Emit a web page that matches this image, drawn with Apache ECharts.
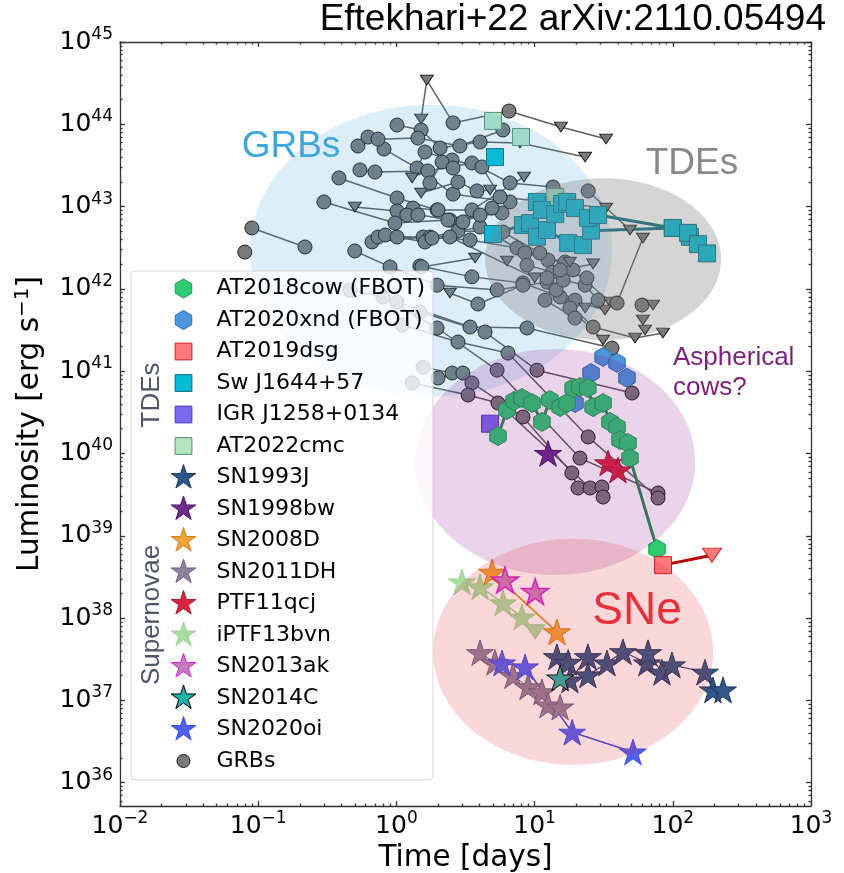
<!DOCTYPE html>
<html><head><meta charset="utf-8">
<script src="https://cdn.jsdelivr.net/npm/echarts@6/dist/echarts.min.js"></script>
<style>html,body{margin:0;padding:0;background:#fff}#c{width:844px;height:873px}</style>
</head><body><div id="c"></div>
<script>
// ---------------- data (time in days, luminosity in erg/s, third value 1 = upper limit) -------------
const at2018cow = [[5.43,1.63e40],[6.31,3.38e40],[7.10,4.35e40],[8.11,4.72e40],[9.58,4.11e40],[11.3,2.42e40],[12.9,4.47e40],[15.3,3.67e40],[17.2,4.11e40],[19.0,6.25e40],[21.3,6.43e40],[24.3,6.25e40],[26.5,3.67e40],[31.3,4.11e40],[35.1,2.42e40],[39.5,2.10e40],[41.5,1.46e40],[47.4,1.34e40],[49.0,8.8e39],[76.9,6.9e38]];
const at2020xnd = [[19.6,4.1e40],[25.6,9.5e40],[31.3,1.49e41],[39.5,1.26e41],[46.6,8.3e40]];
const at2019dsg = [[85,4.4e38,0],[192,5.8e38,1]];
const swj1644Early = [[5.17,4.0e43]];
const swj1644BandA = [[10.4,1.14e43],[11.3,9.1e42],[14.1,8.1e42],[15.8,1.08e43],[17.2,1.14e43],[19.6,9.6e42],[24.3,7.3e42],[28.8,7.9e42],[100,5.5e42],[129,4.8e42],[152,3.5e42],[177,2.7e42]];
const swj1644BandB = [[5.0,4.65e42],[8.24,5.97e42],[9.27,6.3e42],[10.4,4.3e42],[12.3,5.2e42],[17.5,3.6e42],[22.4,3.4e42],[25.6,5.1e42],[100,5.5e42],[133,4.3e42]];
const igrj1258 = [[4.76,2.3e40]];
const at2022cmc = [[5.0,1.1e44],[7.97,7.0e43],[14.1,1.31e43]];
const sn1993j = [[14.5,3.4e37],[17.5,2.9e37],[18.0,1.77e37],[24.3,3.4e37],[24.3,2.04e37],[33.4,2.85e37],[43.6,3.9e37],[65.0,2.85e37],[66.2,3.8e37],[83.5,2.2e37],[98.6,2.7e37],[171,2.2e37],[195,1.34e37],[231,1.34e37]];
const sn1998bw = [[12.5,1.0e40]];
const sn2008d = [[4.92,3.6e38],[14.5,6.8e37]];
const sn2011dh = [[4.03,3.8e37],[5.17,2.9e37],[6.98,2.0e37],[8.96,1.46e37],[11.3,1.27e37],[12.5,8.8e36],[15.3,8.3e36]];
const ptf11qcj = [[34.0,7.7e39],[40.1,6.3e39]];
const iptf13bvn = [[2.98,2.75e38,0],[4.03,2.4e38,0],[5.91,1.53e38,0],[8.11,1.03e38,0],[10.1,6.8e37,1]];
const sn2013ak = [[6.11,2.9e38],[10.1,2.1e38]];
const sn2014c = [[15.3,1.87e37]];
const sn2020oi = [[5.81,2.85e37],[8.53,2.55e37],[18.7,4.1e36],[51.5,2.36e36]];

const grbCurves = [
 [[1.51,1.16e44,1],[1.66,3.45e44,1],[2.57,1.04e44,0],[6.53,1.45e44,0],[15.5,9.27e43,1],[32.9,6.63e43,1]],
 [[1.01,9.8e43,0],[1.51,8.53e43,0],[2.07,5.15e43,0],[4.03,6.1e43,0],[7.84,5.93e43,1],[23.2,4.0e43,1]],
 [[0.623,7.0e43,0],[0.813,5.0e43,0],[1.41,2.94e43,0],[2.57,1.42e43,0],[6.64,1.14e43,0]],
 [[0.527,5.45e43,0],[0.736,6.6e43,0],[1.43,6.8e43,0],[2.88,5.45e43,0],[5.9,8.53e43,0]],
 [[0.545,2.79e43,0],[0.70,2.63e43,0],[1.69,2.71e43,0],[3.52,3.39e43,0],[6.64,1.94e43,0],[13.6,1.73e43,0]],
 [[0.384,2.23e43,0],[1.01,1.27e43,0],[1.97,9.1e42,0],[3.52,9.1e42,0],[8.38,2.29e43,1]],
 [[0.50,9.9e42,1],[1.01,8.85e42,0],[2.44,6.87e42,0],[5.81,8.36e42,0]],
 [[0.299,1.14e43,0],[0.977,6.32e42,0],[2.36,6.87e42,0],[4.92,9.6e42,0]],
 [[0.090,5.5e42,0],[0.218,3.23e42,0]],
 [[0.080,2.8e42,0]],
 [[0.666,3.72e42,0],[1.56,4.27e42,0],[3.41,3.93e42,0],[7.46,3.14e42,0],[12.5,2.24e42,0]],
 [[0.736,4.27e42,0],[1.75,4.27e42,0],[4.03,5.65e42,0],[8.52,2.73e42,0],[16.6,2.12e42,0]],
 [[0.50,2.89e42,0],[0.899,1.85e42,0],[1.97,1.11e42,0],[5.35,9.7e41,0],[12.3,1.21e42,0],[26.5,3.44e41,0],[53.3,2.53e41,1],[84.9,2.91e41,1]],
 [[0.83,4.52e42,0],[1.61,3.72e42,0],[2.79,5.05e42,0],[5.9,4.91e42,0],[10.9,2.73e42,0],[19.0,1.7e42,0],[35.1,6.93e41,1]],
 [[1.01,4.27e42,0],[1.81,4.15e42,0],[2.44,4.27e42,0],[10.0,1.36e42,1]],
 [[1.48,1.9e42,0],[3.52,1.4e42,0],[8.24,1.18e42,0],[15.3,7.97e41,0],[32.3,5.54e41,1]],
 [[1.30,2.23e43,1],[1.61,4.61e43,0],[2.53,3.68e43,0],[4.16,3.03e43,0],[5.62,1.31e43,0],[32.9,9.6e42,1]],
 [[1.51,1.46e43,1],[2.79,1.99e43,0],[3.83,1.55e43,0],[4.76,1.59e43,1]],
 [[1.32,9.6e42,0],[2.0,9.1e42,0],[3.03,6.5e42,0],[4.03,7.9e42,0]],
 [[1.19,7.9e42,0],[1.43,7.9e42,0]],
 [[1.75,1.94e43,0],[2.14,3.48e43,0],[2.57,2.94e43,0]],
 [[24.4,1.55e43,0],[49.0,5.2e42,1]],
 [[39.5,6.74e41,0],[60.8,4.15e42,1]],
 [[1.53,1.85e42,0],[3.71,2.37e42,1]],
 [[6.31,2.18e42,1]],
 [[18.0,2.12e42,1]],
 [[8.81,1.95e42,0],[13.4,1.6e42,0],[26.5,2.01e42,1]],
 [[14.3,9.7e41,0],[19.6,7.3e41,0],[23.2,5.86e41,1]],
 [[18.0,5.86e41,0],[31.3,2.39e41,1]],
 [[59.9,6.37e41,0],[71.9,6.37e41,1]],
 [[60.8,4.19e41,1]],
 [[63.0,3.17e41,1]],
 [[0.462,9.7e41,0],[0.80,7.97e41,0],[1.97,3.35e41,0],[5.35,1.03e41,0],[21.3,8.8e39,0],[78.2,3.31e39,0]],
 [[1.01,6.93e41,0],[3.41,3.44e41,0],[8.81,3.35e41,0],[36.3,1.91e41,0]],
 [[1.48,5.24e41,0],[4.38,2.99e41,0],[10.4,1.03e41,0],[50.7,5.43e40,0]],
 [[1.10,3.64e41,0],[2.79,2.26e41,0],[6.42,1.66e41,0],[24.4,1.59e40,0],[78.2,2.88e39,0]],
 [[1.56,1.12e41,0],[2.53,9.5e40,0],[3.52,7.19e40,0],[8.24,2.78e40,0],[18.6,5.8e39,0],[20.6,3.81e39,0]],
 [[1.30,7.19e40,0],[3.30,5.14e40,0],[5.43,4.11e40,0],[25.2,3.81e39,0],[30.7,3.92e39,0],[31.3,2.96e39,0]],
 [[2.0,8.27e40,0],[3.03,9.5e40,0]],
 [[2.44,8.9e41,1],[3.89,6.55e41,0],[8.24,1.11e42,0]],
 [[11.9,7.3e41,0],[19.6,4.43e41,0]],
 [[16.1,1.28e42,0],[23.2,1.11e42,0],[28.8,7.3e41,0]],
 [[15.3,1.7e42,0],[23.9,1.36e42,0]],
 [[12.3,1.36e42,0]]
];

// shaded regions: centre time [d], centre luminosity [erg/s], half-widths in decades (x, y)
const regionNames = ['GRBs','TDEs','Aspherical cows?','SNe'];
const regions = [[1.78,2.9e42,1.31,1.774],[31.3,2.3e42,0.854,0.984],[14.1,7.9e39,1.013,1.373],[19.0,3.9e37,1.013,1.373]];
const regionColors = ['rgba(62,166,220,0.18)','rgba(128,128,128,0.33)','rgba(128,0,128,0.17)','rgba(230,40,50,0.18)'];

const xTickExponents = [-2,-1,0,1,2,3];
const yTickExponents = [36,37,38,39,40,41,42,43,44,45];

// ---------------- helpers ----------------
const STAR='path://M100,0L77.55,69.1L4.9,69.1L63.67,111.8L41.2,180.9L100,138.2L158.8,180.9L136.33,111.8L195.1,69.1L122.45,69.1Z';
const HEX='path://M100,0L13.4,50L13.4,150L100,200L186.6,150L186.6,50Z';
const TRI='path://M0,0L200,0L100,173Z';
const FR='M0,0M300,300';
const L_CIRCLE='path://'+FR+'M85,150A65,65,0,1,1,215,150A65,65,0,1,1,85,150Z';
const L_HEX='path://'+FR+'M150,55L67.7,102.5L67.7,197.5L150,245L232.3,197.5L232.3,102.5Z';
const L_SQ='path://'+FR+'M66,66L234,66L234,234L66,234Z';
const L_STAR='path://'+FR+'M150,20L120.8,109.8L26.4,109.8L102.8,165.3L73.6,255.2L150,199.7L226.4,255.2L197.2,165.3L273.6,109.8L179.2,109.8Z';

const lg = Math.log10;
function pts(arr, sym, size, triSize){
  const ts = triSize || 13;
  return arr.map(p => ({value:[lg(p[0]), lg(p[1])], symbol: p[2] ? TRI : sym, symbolSize: p[2] ? [ts, ts*0.866] : size}));
}
const xMinor=[], yMinor=[];
for(let n=-2;n<3;n++) for(let k=2;k<10;k++) xMinor.push(n+lg(k));
for(let n=35;n<45;n++) for(let k=2;k<10;k++){const v=n+lg(k); if(v>35.717) yMinor.push(v);}
const sup = v => String(Math.round(v)).replace('-', '\u2212');
const fmt = v => '{b|10}{s|' + sup(v) + '}';
const rich = {b:{fontSize:25,fontFamily:'DejaVu Sans',lineHeight:32,color:'#000'}, s:{fontSize:17,fontFamily:'DejaVu Sans',lineHeight:18,verticalAlign:'top',color:'#000'}};
const AX = {color:'#333', width:1.3};

function mk(name, data, o){
  const s = {type: o.line ? 'line' : 'scatter', name, data, z: 2, silent:true, animation:false,
    symbolKeepAspect:true,
    itemStyle:{color:o.fill, borderColor:o.edge, borderWidth:o.bw||1, opacity:1}};
  if(o.line){ s.lineStyle = {color:o.lc, width:o.lw}; s.showSymbol = true; s.emphasis={disabled:true}; }
  return s;
}

const series = [];
grbCurves.forEach(c => series.push(mk('GRBs', pts(c,'circle',14,13), {line:true, fill:'#7a7a7a', edge:'#1a1a1a', lc:'#5f5f5f', lw:1.5})));
series.push(mk('AT2022cmc', pts(at2022cmc,'rect',17), {fill:'#b2e6c2', edge:'#5b8c6a'}));
series.push(mk('Sw J1644+57', pts(swj1644Early,'rect',17), {fill:'#00bcd4', edge:'#13697a'}));
series.push(mk('Sw J1644+57', pts(swj1644BandB,'rect',17), {line:true, fill:'#00bcd4', edge:'#13697a', lc:'#0b6f7f', lw:3}));
series.push(mk('Sw J1644+57', pts(swj1644BandA,'rect',17), {line:true, fill:'#00bcd4', edge:'#13697a', lc:'#0b6f7f', lw:3}));
series.push(mk('IGR J1258+0134', pts(igrj1258,'rect',17), {fill:'#7b68ee', edge:'#4b3cc8'}));
series.push(mk('AT2020xnd (FBOT)', pts(at2020xnd,HEX,19), {fill:'#4a98db', edge:'#2f6fb0'}));
series.push(mk('AT2018cow (FBOT)', pts(at2018cow,HEX,19), {line:true, fill:'#2ecc71', edge:'#1f9a55', lc:'#2e8b57', lw:3}));
series.push(mk('AT2019dsg', pts(at2019dsg,'rect',17,19), {line:true, fill:'#ff7b7b', edge:'#cc2020', lc:'#b80000', lw:3}));
series.push(mk('SN1993J', pts(sn1993j,STAR,27), {line:true, fill:'#2f5788', edge:'#1d3557', lc:'#34406a', lw:1.2}));
series.push(mk('SN1998bw', pts(sn1998bw,STAR,27), {fill:'#6c2c8c', edge:'#4c1b66'}));
series.push(mk('SN2011DH', pts(sn2011dh,STAR,27), {line:true, fill:'#8e839c', edge:'#6d6280', lc:'#776a87', lw:1}));
series.push(mk('iPTF13bvn', pts(iptf13bvn,STAR,27,19), {line:true, fill:'#a8dfa0', edge:'#9fd397', lc:'#9fd397', lw:1.5}));
series.push(mk('SN2008D', pts(sn2008d,STAR,27), {line:true, fill:'#f2a33a', edge:'#d07f10', lc:'#e0861a', lw:1.5}));
series.push(mk('SN2013ak', pts(sn2013ak,STAR,27), {fill:'#c77dc0', edge:'#d21fd2', bw:1.5}));
series.push(mk('SN2020oi', pts(sn2020oi,STAR,27), {line:true, fill:'#4f5ff5', edge:'#3a50e8', lc:'#3a4ce0', lw:1.5}));
series.push(mk('SN2014C', pts(sn2014c,STAR,27), {fill:'#20b2aa', edge:'#000'}));
series.push(mk('PTF11qcj', pts(ptf11qcj,STAR,27), {fill:'#d7263d', edge:'#a51c2e'}));
series.push({type:'custom', name:'regions', silent:true, z:3, animation:false,
  data: regions.map(r => [lg(r[0]), lg(r[1]), r[2], r[3]]),
  renderItem:(params, api) => {
    const c = api.coord([api.value(0), api.value(1)]);
    const s = api.size([api.value(2), api.value(3)]);
    return {type:'ellipse', shape:{cx:c[0], cy:c[1], rx:s[0], ry:s[1]}, style:{fill:regionColors[params.dataIndex]}};
  }});

const legendItems = [
 ['AT2018cow (FBOT)', L_HEX, '#2ecc71', '#1f9a55'],
 ['AT2020xnd (FBOT)', L_HEX, '#4a98db', '#2f6fb0'],
 ['AT2019dsg', L_SQ, '#ff7b7b', '#cc2020'],
 ['Sw J1644+57', L_SQ, '#00bcd4', '#13697a'],
 ['IGR J1258+0134', L_SQ, '#7b68ee', '#4b3cc8'],
 ['AT2022cmc', L_SQ, '#b2e6c2', '#5b8c6a'],
 ['SN1993J', L_STAR, '#2f5788', '#1d3557'],
 ['SN1998bw', L_STAR, '#6c2c8c', '#4c1b66'],
 ['SN2008D', L_STAR, '#f2a33a', '#d07f10'],
 ['SN2011DH', L_STAR, '#8e839c', '#6d6280'],
 ['PTF11qcj', L_STAR, '#d7263d', '#a51c2e'],
 ['iPTF13bvn', L_STAR, '#a8dfa0', '#9fd397'],
 ['SN2013ak', L_STAR, '#c77dc0', '#d21fd2'],
 ['SN2014C', L_STAR, '#20b2aa', '#000000'],
 ['SN2020oi', L_STAR, '#4f5ff5', '#3a50e8'],
 ['GRBs', L_CIRCLE, '#7a7a7a', '#1a1a1a']
];

function txt(text, x, y, size, color, extra){
  return {type:'text', x, y, z:50, silent:true,
    style:Object.assign({text, fontSize:size, fontFamily:'Liberation Sans', fill:color,
      align:'center', verticalAlign:'middle', textAlign:'center', textVerticalAlign:'middle'}, extra||{})};
}

const chart = echarts.init(document.getElementById('c'), null, {renderer:'canvas'});
chart.setOption({
  animation:false,
  backgroundColor:'#fff',
  textStyle:{fontFamily:'DejaVu Sans'},
  title:{text:'Eftekhari+22 arXiv:2110.05494', right:18, top:1, padding:0,
    textStyle:{fontSize:37, fontWeight:'normal', fontFamily:'Liberation Sans', color:'#000'}},
  grid:{left:120, right:33, top:42, bottom:67, containLabel:false, outerBoundsMode:'none'},
  xAxis:[
    {type:'value', min:-2, max:3, position:'bottom', axisLine:{show:true, onZero:false, lineStyle:AX},
     axisTick:{show:true, inside:true, length:5, customValues:xTickExponents, lineStyle:AX},
     axisLabel:{show:true, customValues:xTickExponents, formatter:fmt, rich, margin:4, showMinLabel:true, showMaxLabel:true},
     splitLine:{show:false}, name:'Time [days]', nameLocation:'middle', nameGap:26,
     nameTextStyle:{fontSize:29.5, fontFamily:'DejaVu Sans', color:'#000'}},
    {type:'value', min:-2, max:3, position:'bottom', axisLine:{show:false, onZero:false},
     axisTick:{show:true, inside:true, length:2.5, customValues:xMinor, lineStyle:AX}, axisLabel:{show:false}, splitLine:{show:false}},
    {type:'value', min:-2, max:3, position:'top', axisLine:{show:true, onZero:false, lineStyle:AX},
     axisTick:{show:true, inside:true, length:5, customValues:xTickExponents, lineStyle:AX}, axisLabel:{show:false}, splitLine:{show:false}},
    {type:'value', min:-2, max:3, position:'top', axisLine:{show:false, onZero:false},
     axisTick:{show:true, inside:true, length:2.5, customValues:xMinor, lineStyle:AX}, axisLabel:{show:false}, splitLine:{show:false}}
  ],
  yAxis:[
    {type:'value', min:35.717, max:45, position:'left', axisLine:{show:true, onZero:false, lineStyle:AX},
     axisTick:{show:true, inside:true, length:5, customValues:yTickExponents, lineStyle:AX},
     axisLabel:{show:true, customValues:yTickExponents, formatter:fmt, rich, margin:7, showMinLabel:true, showMaxLabel:true},
     splitLine:{show:false}, name:'Luminosity [erg s{sup|\u22121}]', nameLocation:'middle', nameGap:63, nameRotate:90,
     nameTextStyle:{fontSize:29.5, fontFamily:'DejaVu Sans', color:'#000', lineHeight:36,
       rich:{sup:{fontSize:20, fontFamily:'DejaVu Sans', verticalAlign:'top', lineHeight:22, color:'#000'}}}},
    {type:'value', min:35.717, max:45, position:'left', axisLine:{show:false, onZero:false},
     axisTick:{show:true, inside:true, length:2.5, customValues:yMinor, lineStyle:AX}, axisLabel:{show:false}, splitLine:{show:false}},
    {type:'value', min:35.717, max:45, position:'right', axisLine:{show:true, onZero:false, lineStyle:AX},
     axisTick:{show:true, inside:true, length:5, customValues:yTickExponents, lineStyle:AX}, axisLabel:{show:false}, splitLine:{show:false}},
    {type:'value', min:35.717, max:45, position:'right', axisLine:{show:false, onZero:false},
     axisTick:{show:true, inside:true, length:2.5, customValues:yMinor, lineStyle:AX}, axisLabel:{show:false}, splitLine:{show:false}}
  ],
  legend:{show:true, orient:'vertical', left:168, top:273, padding:0,
    itemWidth:56, itemHeight:30, itemGap:0.5, selectedMode:false, symbolKeepAspect:true,
    backgroundColor:'transparent', borderWidth:0, z:20,
    textStyle:{fontSize:22, fontFamily:'DejaVu Sans', color:'#000'},
    data: legendItems.map(it => ({name:it[0], icon:it[1], itemStyle:{color:it[2], borderColor:it[3], borderWidth:1}}))},
  graphic:[
    {type:'rect', x:131, y:271, z:15, silent:true, shape:{width:302, height:509, r:4},
     style:{fill:'rgba(255,255,255,0.8)', stroke:'rgba(204,204,204,0.8)', lineWidth:1}},
    txt('GRBs', 291, 147, 37, '#3ea6dc'),
    txt('TDEs', 692, 164, 37, '#888888'),
    txt('SNe', 637, 611, 46, '#e8303a'),
    txt('Aspherical\ncows?', 673, 373, 26, '#7b1f7b', {align:'left', textAlign:'left', lineHeight:30}),
    Object.assign(txt('TDEs', 152, 395, 26, '#4e5566'), {rotation:Math.PI/2, z:60}),
    Object.assign(txt('Supernovae', 152, 615, 26, '#4e5566'), {rotation:Math.PI/2, z:60})
  ],
  series
});
</script>
</body></html>
